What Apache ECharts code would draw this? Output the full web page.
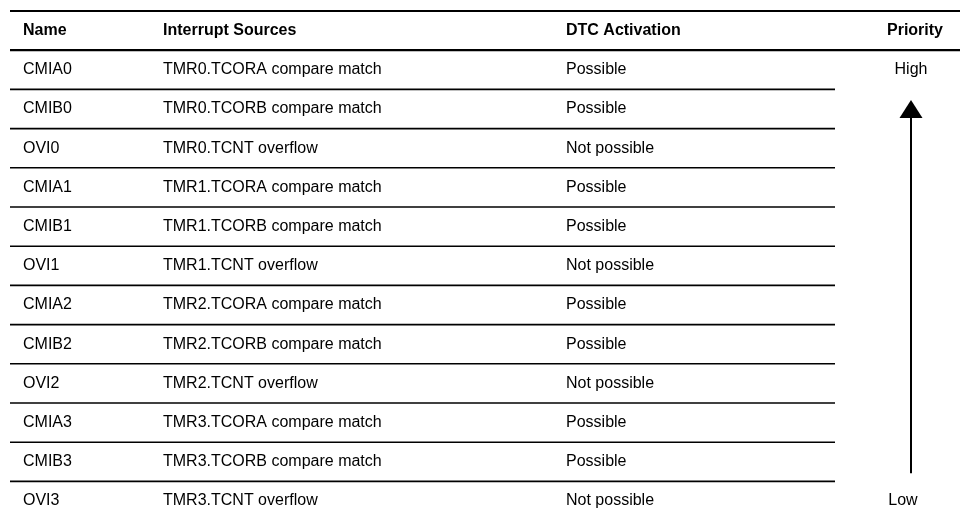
<!DOCTYPE html>
<html>
<head>
<meta charset="utf-8">
<script src="https://cdn.jsdelivr.net/npm/echarts@6/dist/echarts.min.js"></script>
<style>html,body{margin:0;padding:0;background:#fff}#c{width:960px;height:513px}</style>
</head>
<body>
<div id="c"></div>
<script>
const headers = ['Name', 'Interrupt Sources', 'DTC Activation', 'Priority'];
const names = ['CMIA0','CMIB0','OVI0','CMIA1','CMIB1','OVI1','CMIA2','CMIB2','OVI2','CMIA3','CMIB3','OVI3'];
const sources = ['TMR0.TCORA compare match','TMR0.TCORB compare match','TMR0.TCNT overflow',
  'TMR1.TCORA compare match','TMR1.TCORB compare match','TMR1.TCNT overflow',
  'TMR2.TCORA compare match','TMR2.TCORB compare match','TMR2.TCNT overflow',
  'TMR3.TCORA compare match','TMR3.TCORB compare match','TMR3.TCNT overflow'];
const dtc = ['Possible','Possible','Not possible','Possible','Possible','Not possible',
  'Possible','Possible','Not possible','Possible','Possible','Not possible'];
const priorityHigh = 'High';
const priorityLow = 'Low';

const FONT = '16px "Liberation Sans", Arial, sans-serif';
const BFONT = 'bold 16px "Liberation Sans", Arial, sans-serif';
const COL = { name: 23, src: 163, dtc: 566, prioRight: 943, prio: 911, lineEnd: 835, left: 10, right: 960 };

function txt(x, y, s, font, align) {
  return { type: 'text', style: { x: x, y: y, text: s, font: font, fill: '#000', textAlign: align || 'left', textVerticalAlign: 'middle' } };
}

const chart = echarts.init(document.getElementById('c'), null, { renderer: 'canvas' });
chart.setOption({
  animation: false,
  backgroundColor: '#fff',
  grid: { left: 0, right: 0, top: 11, height: 501.76 },
  xAxis: { type: 'value', min: 0, max: 960, show: false },
  yAxis: { type: 'value', min: 0, max: 12.8, inverse: true, show: false },
  series: [
    {
      type: 'custom',
      coordinateSystem: 'cartesian2d',
      data: names.map((n, i) => [0, i + 1]),
      renderItem: function (params, api) {
        const i = params.dataIndex;
        const top = api.coord([0, i + 1])[1];
        const mid = api.coord([0, i + 1.5])[1];
        const children = [
          txt(COL.name, mid, names[i], FONT),
          txt(COL.src, mid, sources[i], FONT),
          txt(COL.dtc, mid, dtc[i], FONT)
        ];
        if (i > 0) {
          children.push({ type: 'line', shape: { x1: COL.left, y1: top, x2: COL.lineEnd, y2: top }, style: { stroke: '#000', lineWidth: 1.6 } });
        }
        return { type: 'group', children: children };
      }
    },
    {
      type: 'custom',
      coordinateSystem: 'cartesian2d',
      data: [[0, 0]],
      renderItem: function (params, api) {
        const y0 = api.coord([0, 0])[1];
        const y1 = api.coord([0, 1])[1];
        const hm = api.coord([0, 0.5])[1];
        const highY = api.coord([0, 1.5])[1];
        const lowY = api.coord([0, names.length + 0.5])[1];
        const tip = api.coord([911, 2.27]);
        const base = api.coord([911, 2.73]);
        const end = api.coord([911, 11.79]);
        return {
          type: 'group',
          children: [
            { type: 'line', shape: { x1: COL.left, y1: y0, x2: COL.right, y2: y0 }, style: { stroke: '#000', lineWidth: 2 } },
            { type: 'line', shape: { x1: COL.left, y1: y1, x2: COL.right, y2: y1 }, style: { stroke: '#000', lineWidth: 2.2 } },
            txt(COL.name, hm, headers[0], BFONT),
            txt(COL.src, hm, headers[1], BFONT),
            txt(COL.dtc, hm, headers[2], BFONT),
            txt(COL.prioRight, hm, headers[3], BFONT, 'right'),
            txt(COL.prio, highY, priorityHigh, FONT, 'center'),
            txt(COL.prio - 8, lowY, priorityLow, FONT, 'center'),
            { type: 'polygon', shape: { points: [[tip[0], tip[1]], [tip[0] - 11.5, base[1]], [tip[0] + 11.5, base[1]]] }, style: { fill: '#000' } },
            { type: 'line', shape: { x1: base[0], y1: base[1] - 1, x2: end[0], y2: end[1] }, style: { stroke: '#000', lineWidth: 2 } }
          ]
        };
      }
    }
  ]
});
</script>
</body>
</html>
